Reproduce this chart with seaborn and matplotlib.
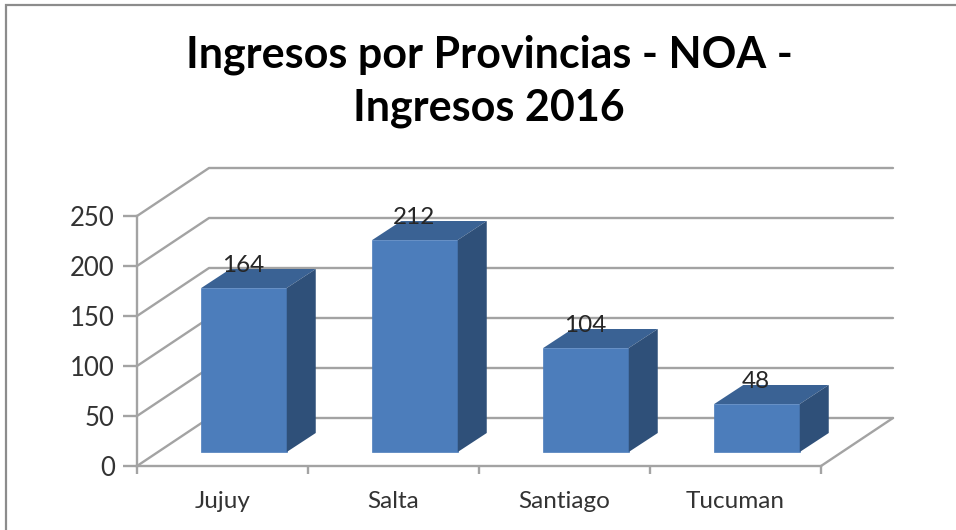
import matplotlib
matplotlib.use('Agg')
import matplotlib.pyplot as plt
import pandas as pd
import seaborn as sns
from matplotlib.patches import Polygon, Rectangle

provincias = ['Jujuy', 'Salta', 'Santiago', 'Tucuman']
ingresos = [164, 212, 104, 48]
y_ticks = [0, 50, 100, 150, 200, 250]
titulo = 'Ingresos por Provincias - NOA -\nIngresos 2016'

W, H = 956, 530
GRID = '#a3a3a3'
FRONT, TOP, SIDE = '#4c7dbb', '#3a6294', '#2f5079'

sns.set_theme(style='white')
plt.rcParams['font.family'] = ['Lato', 'DejaVu Sans']

fig = plt.figure(figsize=(W / 100, H / 100), dpi=100)
ax = fig.add_axes([137 / W, 1 - 466 / H, 684 / W, 250 / H])

df = pd.DataFrame({'provincia': provincias, 'ingresos': ingresos})
sns.barplot(data=df, x='provincia', y='ingresos', color=FRONT, saturation=1,
            width=0.5, bottom=14, errorbar=None, ax=ax, zorder=3,
            edgecolor=FRONT, linewidth=0.5)
ax.set_xlim(-0.5, 3.5)
ax.set_ylim(0, 250)

# profundidad del "3D": pared del fondo y cara de cada barra (en unidades de datos)
px_x = 4 / 684
wall_dx, wall_dy = 72 * px_x, 48
bar_shift = 21.5 * px_x
depth_dx, depth_dy = 29 * px_x, 19

# pared y piso
for v in y_ticks:
    ax.plot([-0.5, -0.5 + wall_dx, 3.5 + wall_dx], [v, v + wall_dy, v + wall_dy],
            color=GRID, lw=1.7, clip_on=False, zorder=1)
ax.plot([3.5, 3.5 + wall_dx], [0, wall_dy], color=GRID, lw=1.7, clip_on=False, zorder=1)

# caras superior y lateral de las barras
for bar, valor in zip(ax.patches, ingresos):
    bar.set_x(bar.get_x() + bar_shift)
    x0, x1 = bar.get_x(), bar.get_x() + bar.get_width()
    y0, y1 = bar.get_y(), bar.get_y() + bar.get_height()
    ax.add_patch(Polygon([(x0, y1), (x1, y1), (x1 + depth_dx, y1 + depth_dy), (x0 + depth_dx, y1 + depth_dy)],
                         facecolor=TOP, edgecolor='none', clip_on=False, zorder=3))
    ax.add_patch(Polygon([(x1, y0), (x1 + depth_dx, y0 + depth_dy), (x1 + depth_dx, y1 + depth_dy), (x1, y1)],
                         facecolor=SIDE, edgecolor='none', clip_on=False, zorder=3))
    bar.set_clip_on(False)
    ax.text((x0 + x1) / 2 - 1 * px_x, y1 + 22, str(valor), ha='center', va='center',
            fontsize=17.5, color='#262626', clip_on=False, zorder=4)

# ejes
sns.despine(ax=ax)
for lado in ['left', 'bottom']:
    ax.spines[lado].set_color(GRID)
    ax.spines[lado].set_linewidth(1.7)
ax.set_xlabel('')
ax.set_ylabel('')
ax.set_yticks(y_ticks)
ax.set_xticks(range(len(provincias)))
ax.set_xticklabels(provincias)
ax.set_xticks([-0.5, 0.5, 1.5, 2.5, 3.5], minor=True)
ax.tick_params(axis='x', which='major', length=0, pad=18, labelsize=17.5, labelcolor='#333333')
ax.tick_params(axis='x', which='minor', length=6, width=1.7, color=GRID, bottom=True)
ax.tick_params(axis='y', length=10, width=1.7, color=GRID, left=True, pad=6,
               labelsize=18.5, labelcolor='#333333')
ax.patch.set_alpha(0)

# titulo y marco de la imagen
fig.text(489 / W, 1 - 81 / H, titulo, ha='center', va='center', fontsize=31,
         fontweight='bold', color='black', linespacing=1.38)
fig.add_artist(Rectangle((6 / W, -0.1), 2, 1.1 - 5 / H, transform=fig.transFigure,
                         facecolor='none', edgecolor='#8c8c8c', lw=1.6))

fig.savefig('out.png', dpi=100)
